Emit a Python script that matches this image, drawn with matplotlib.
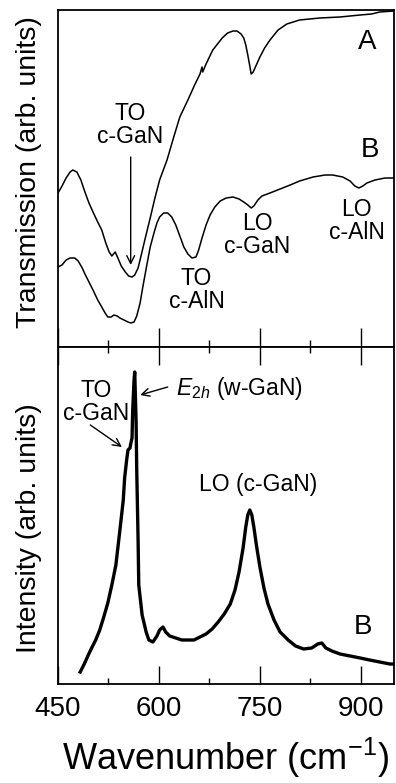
import matplotlib
matplotlib.use("Agg")
import matplotlib.pyplot as plt
from matplotlib.ticker import MultipleLocator

plt.rcParams['font.family'] = ['Liberation Sans', 'DejaVu Sans']
plt.rcParams['mathtext.fontset'] = 'custom'
plt.rcParams['mathtext.rm'] = 'Liberation Sans'
plt.rcParams['mathtext.it'] = 'Liberation Sans:italic'

# ---- Transmission spectrum A (wavenumber, transmission arb.) ----
wn_A = [450, 456, 462, 468, 472, 478, 484, 490, 496, 502, 509, 515, 521, 526, 530,
        535, 539, 544, 550, 555, 560, 564, 569, 573, 579, 587, 594, 601, 612, 622,
        631, 643, 653, 661, 664, 665, 670, 680, 694, 702, 710, 716, 722, 726, 729,
        732, 735, 737, 740, 744, 750, 757, 765, 777, 790, 809, 839, 869, 899, 916,
        928, 949]
tr_A = [154, 161, 169, 175, 177, 175, 167, 155, 144, 135, 125, 117, 104, 95, 91,
        95, 89, 81, 75, 71, 70, 72, 79, 90, 107, 129, 149, 167, 187, 210,
        230, 247, 262, 273, 280, 275, 283, 297, 309, 314, 316, 316, 313, 309, 302,
        292, 281, 273, 275, 281, 290, 299, 307, 317, 323, 327, 329, 330, 332, 333,
        335, 336]

# ---- Transmission spectrum B ----
wn_B = [450, 456, 462, 468, 475, 480, 486, 490, 496, 502, 509, 515, 520, 524, 529,
        533, 538, 542, 548, 554, 558, 563, 567, 572, 576, 582, 587, 593, 597, 601,
        607, 613, 619, 625, 631, 637, 643, 649, 655, 659, 664, 670, 676, 683, 691,
        700, 710, 719, 726, 732, 737, 741, 747, 753, 765, 780, 795, 809, 829, 847,
        858, 873, 884, 891, 897, 903, 909, 921, 936, 949]
tr_B = [80, 82, 87, 89, 89, 86, 79, 73, 65, 57, 47, 40, 34, 30, 30,
        32, 31, 29, 27, 25, 24, 25, 31, 44, 60, 82, 100, 115, 124, 130,
        134, 134, 130, 122, 111, 100, 93, 89, 90, 97, 109, 122, 132, 140, 146,
        149, 150, 148, 145, 142, 139, 141, 147, 151, 154, 158, 162, 166, 170, 172,
        172, 170, 166, 161, 159, 161, 164, 167, 169, 169]

# ---- Raman spectrum B (wavenumber, intensity arb.) ----
wn_R = [483, 489, 495, 500, 506, 512, 518, 524, 530, 536, 542, 547, 549, 552, 554,
        557, 558, 560, 561, 563, 564, 566, 567, 569, 570, 575, 581, 585, 591, 597,
        601, 606, 610, 616, 625, 634, 643, 652, 661, 670, 679, 688, 697, 706, 713,
        719, 725, 729, 732, 735, 738, 741, 745, 750, 756, 762, 771, 780, 792, 803,
        815, 827, 836, 842, 848, 857, 869, 884, 899, 913, 928, 943, 947]
in_R = [12, 20, 29, 36, 44, 54, 67, 81, 99, 119, 154, 184, 206, 224, 234,
        236, 240, 246, 274, 304, 312, 264, 214, 144, 99, 69, 52, 44, 42, 48,
        54, 57, 52, 48, 46, 44, 44, 44, 47, 50, 55, 62, 70, 80, 94,
        112, 136, 157, 169, 174, 169, 157, 138, 117, 96, 80, 64, 52, 44, 38,
        35, 36, 40, 41, 36, 33, 30, 28, 26, 24, 22, 20, 20]

xticks_major = [450, 600, 750, 900]

W, H = 396, 783
fig = plt.figure(figsize=(W / 100, H / 100), dpi=100)
left = 58 / W
width = 336.5 / W
ax1 = fig.add_axes([left, (H - 347) / H, width, 337 / H])
ax2 = fig.add_axes([left, (H - 684) / H, width, 337 / H])

for ax in (ax1, ax2):
    ax.set_xlim(450, 950)
    ax.set_ylim(0, 337)
    ax.set_yticks([])
    ax.xaxis.set_major_locator(MultipleLocator(150))
    ax.xaxis.set_minor_locator(MultipleLocator(75))
    for s in ax.spines.values():
        s.set_linewidth(1.3)

ax1.tick_params(axis='x', which='both', direction='in', bottom=True, top=False,
                labelbottom=False, width=1.0)
ax1.tick_params(axis='x', which='major', length=13.5)
ax1.tick_params(axis='x', which='minor', length=5)
ax2.tick_params(axis='x', which='both', direction='in', bottom=True, top=True,
                labelbottom=True, width=1.0, labelsize=20, pad=9)
ax2.tick_params(axis='x', which='major', length=13)
ax2.tick_params(axis='x', which='minor', length=4.5)
ax2.set_xticks(xticks_major)
ax2.set_xticklabels([str(v) for v in xticks_major])

ax1.plot(wn_A, tr_A, color='black', lw=1.1)
ax1.plot(wn_B, tr_B, color='black', lw=1.1)
ax2.plot(wn_R, in_R, color='black', lw=2.4)

fs = 16.5
ls = 0.95
ax1.text(910, 305, 'A', fontsize=20, ha='center', va='center')
ax1.text(913, 197, 'B', fontsize=20, ha='center', va='center')
ax1.text(557, 222, 'TO\nc-GaN', fontsize=fs, ha='center', va='center', linespacing=ls)
ax1.text(746, 112, 'LO\nc-GaN', fontsize=fs, ha='center', va='center', linespacing=ls)
ax1.text(894, 126, 'LO\nc-AlN', fontsize=fs, ha='center', va='center', linespacing=ls)
ax1.text(656, 57, 'TO\nc-AlN', fontsize=fs, ha='center', va='center', linespacing=ls)
ax1.annotate('', xy=(558, 82), xytext=(558, 190),
             arrowprops=dict(arrowstyle='->', lw=1.0, color='black',
                             mutation_scale=14, shrinkA=0, shrinkB=0))

ax2.text(506, 282, 'TO\nc-GaN', fontsize=fs, ha='center', va='center', linespacing=ls)
ax2.annotate('', xy=(545, 237), xytext=(498, 259),
             arrowprops=dict(arrowstyle='->', lw=1.0, color='black',
                             mutation_scale=14, shrinkA=0, shrinkB=0))
ax2.text(625, 296, r'$E_{2h}$ (w-GaN)', fontsize=fs, ha='left', va='center')
ax2.annotate('', xy=(572, 289), xytext=(613, 297),
             arrowprops=dict(arrowstyle='->', lw=1.0, color='black',
                             mutation_scale=14, shrinkA=0, shrinkB=0))
ax2.text(748, 200, 'LO (c-GaN)', fontsize=fs, ha='center', va='center')
ax2.text(903, 57, 'B', fontsize=20, ha='center', va='center')

fig.text(29 / W, (H - 172) / H, 'Transmission (arb. units)', rotation=90,
         fontsize=20.5, ha='center', va='center')
fig.text(29 / W, (H - 528) / H, 'Intensity (arb. units)', rotation=90,
         fontsize=20.5, ha='center', va='center')
fig.text(226 / W, (H - 770) / H, r'Wavenumber (cm$^{-1}$)', fontsize=26,
         ha='center', va='baseline')

fig.savefig('out.png', dpi=100)
